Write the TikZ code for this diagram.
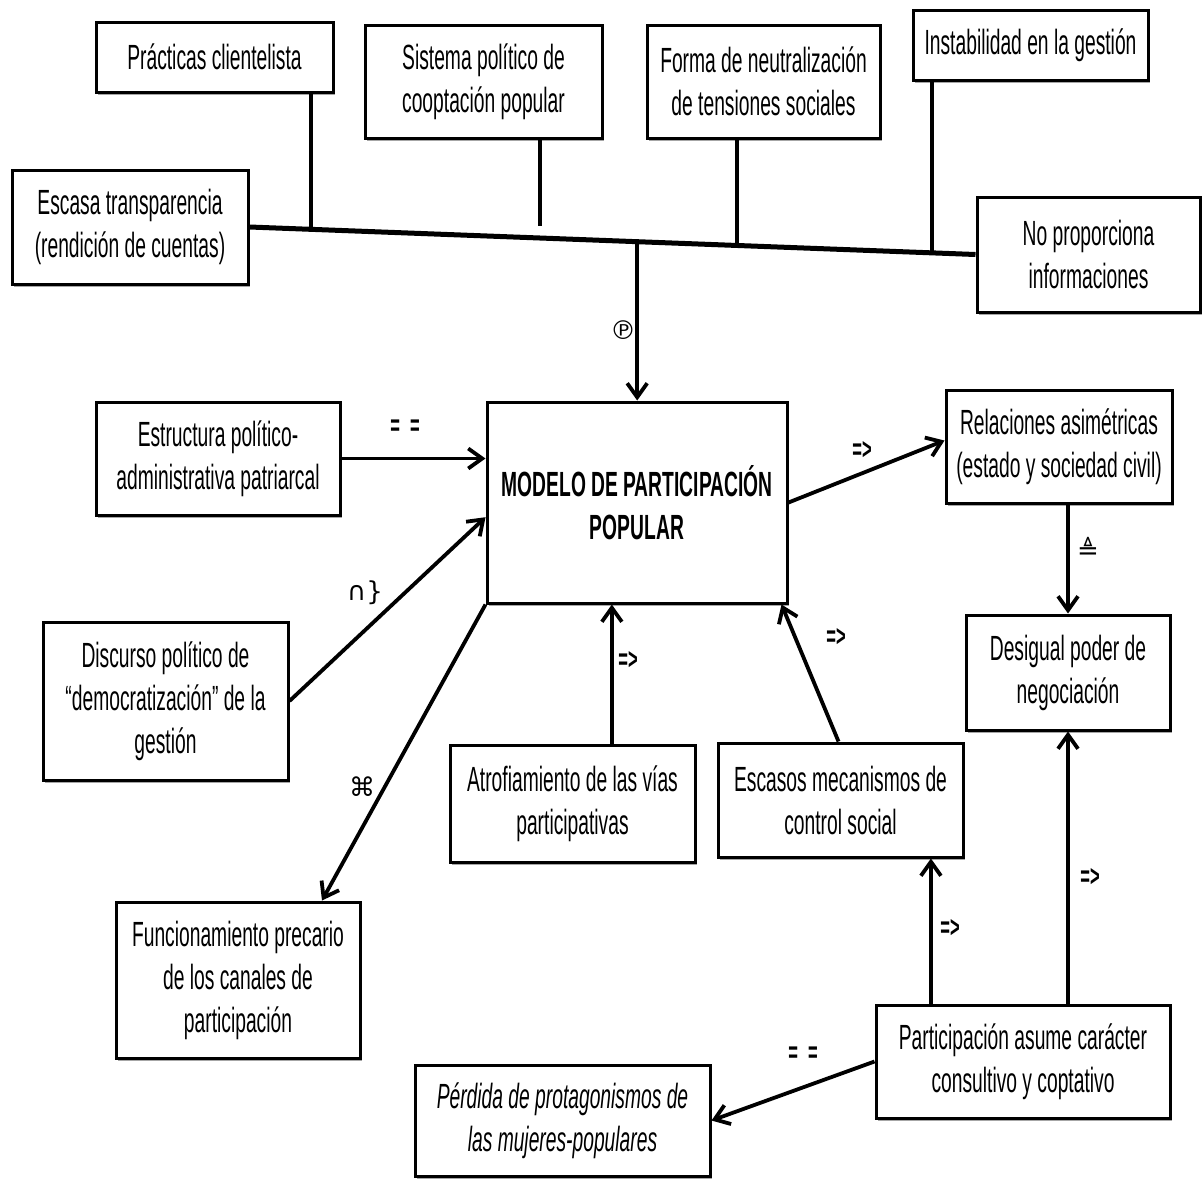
\documentclass[tikz,border=0pt]{standalone}
\usepackage{fontspec}
\setmainfont[FakeStretch=0.55]{Liberation Sans}
\newfontfamily\symfont{DejaVu Sans}
\usetikzlibrary{arrows.meta,calc,shadows}
\begin{document}
\begin{tikzpicture}[x=0.5pt,y=-0.5pt,
  box/.style={draw, line width=1.5pt, fill=white, align=center, inner sep=0pt,
    font=\fontsize{17.5}{21.5}\selectfont,
    drop shadow={shadow xshift=1.2pt, shadow yshift=-1.5pt, opacity=0.35, fill=black}},
  link/.style={line width=1.9pt},
  arr/.style={link, -{Straight Barb[length=7pt,width=10pt,line width=1.9pt]}},
  tag/.style={font=\fontsize{15}{17}\selectfont\bfseries, inner sep=1pt},
  sym/.style={font=\symfont\fontsize{13}{15}\selectfont, inner sep=1pt}]
\useasboundingbox[fill=white] (0,0) rectangle (1202,1178);

% upper row of boxes
\node[box, minimum width=118.5pt, minimum height=35pt]   (prac)  at (214.5,57)   {Prácticas clientelista};
\node[box, minimum width=118.5pt, minimum height=56.5pt] (sist)  at (483.5,81.5) {Sistema político de\\cooptación popular};
\node[box, minimum width=116.5pt, minimum height=56.5pt] (forma) at (763.5,81.5) {Forma de neutralización\\de tensiones sociales};
\node[box, minimum width=117.5pt, minimum height=35pt]   (inst)  at (1030.5,45)  {Instabilidad en la gestión};
\node[box, minimum width=118pt,   minimum height=57pt]   (escasa) at (130,227)   {Escasa transparencia\\(rendición de cuentas)};
\node[box, minimum width=111.5pt, minimum height=57.5pt] (nopro) at (1088.5,254.5) {No proporciona\\informaciones};

% central model and its neighbours
\node[box, minimum width=150pt, minimum height=100.5pt, font=\fontsize{17.5}{21.5}\selectfont\bfseries] (modelo) at (637,502.5) {MODELO DE PARTICIPACIÓN\\POPULAR};
\node[box, minimum width=122pt,   minimum height=56.5pt] (estr)  at (218,458.5)  {Estructura político-\\administrativa patriarcal};
\node[box, minimum width=113pt,   minimum height=56.5pt] (rel)   at (1059,446.5) {Relaciones asimétricas\\(estado y sociedad civil)};
\node[box, minimum width=122.5pt, minimum height=79pt]   (disc)  at (165.5,701)  {Discurso político de\\“democratización” de la\\gestión};
\node[box, minimum width=102pt,   minimum height=57.5pt] (desig) at (1068,672.5) {Desigual poder de\\negociación};
\node[box, minimum width=122.5pt, minimum height=58.5pt] (atro)  at (572.5,803.5) {Atrofiamiento de las vías\\participativas};
\node[box, minimum width=122.5pt, minimum height=57pt]   (escm)  at (840.5,800)  {Escasos mecanismos de\\control social};
\node[box, minimum width=122pt,   minimum height=78pt]   (func)  at (238,980)    {Funcionamiento precario\\de los canales de\\participación};
\node[box, minimum width=147pt,   minimum height=56.5pt] (part)  at (1023,1061.5) {Participación asume carácter\\consultivo y coptativo};
\node[box, minimum width=147.5pt, minimum height=55.5pt, font=\fontsize{17.5}{21.5}\selectfont\itshape] (perd) at (562.5,1120.5) {Pérdida de protagonismos de\\las mujeres-populares};

% spine joining the upper causes
\draw[line width=2.5pt] (escasa.east) -- (nopro.west);
\coordinate (s1) at ($(escasa.east)!0.085!(nopro.west)$);
\coordinate (s2) at ($(escasa.east)!0.40!(nopro.west)$);
\coordinate (s3) at ($(escasa.east)!0.534!(nopro.west)$);
\coordinate (s4) at ($(escasa.east)!0.671!(nopro.west)$);
\coordinate (s5) at ($(escasa.east)!0.94!(nopro.west)$);
\draw[link] (s1 |- prac.south) -- (s1);
\draw[link] (s2 |- sist.south) -- ($(s2)+(0,-12)$);
\draw[link] (s4 |- forma.south) -- (s4);
\draw[link] (s5 |- inst.south) -- (s5);
\draw[arr] (s3) -- (s3 |- modelo.north);
\node[sym] at (623,330) {℗};

% arrows around the model
\draw[arr] (estr.east) -- (estr.east -| modelo.west);
\node[tag] at (405,428) {=\,\,=};
\draw[arr] (modelo.east) -- ($(rel.west)+(0,-6)$);
\node[tag] at (862,450) {=>};
\draw[arr] (rel.south -| desig.north) -- (desig.north);
\node[sym] at (1088,548) {≜};
\draw[arr] (disc.east) -- ($(modelo.south west)!0.428!(modelo.north west)$);
\node[sym] at (365,593) {∩\}};
\draw[arr] (modelo.south west) -- ($(func.north west)!0.84!(func.north east)$);
\node[sym] at (362,787) {⌘};
\coordinate (a1) at ($(modelo.south west)!0.417!(modelo.south east)$);
\draw[arr] (a1 |- atro.north) -- (a1);
\node[tag] at (628,660) {=>};
\draw[arr] ($(escm.north)+(-2,0)$) -- ($(modelo.south east)+(-7,0)$);
\node[tag] at (836,637) {=>};

% arrows leaving the lower right box
\coordinate (p1) at ($(part.north west)!0.19!(part.north east)$);
\draw[arr] (p1) -- (p1 |- escm.south);
\node[tag] at (950,928) {=>};
\draw[arr] (desig.south |- part.north) -- (desig.south);
\node[tag] at (1090,877) {=>};
\draw[arr] (part.west) -- (perd.east);
\node[tag] at (803,1055) {=\,\,=};
\end{tikzpicture}
\end{document}
